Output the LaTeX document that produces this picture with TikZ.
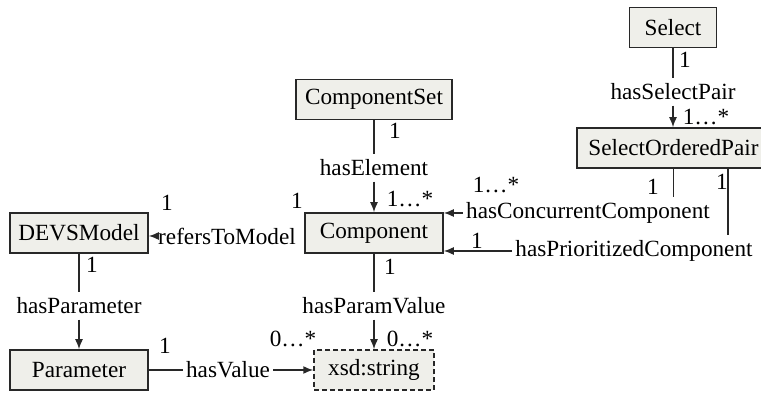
\documentclass[tikz,border=0pt]{standalone}
\usepackage{fontspec}
\setmainfont{Liberation Serif}
\usetikzlibrary{arrows.meta}
\definecolor{boxfill}{RGB}{239,239,234}
\definecolor{linegray}{RGB}{40,40,40}

\begin{document}
\begin{tikzpicture}
	[x=0.5pt, y=-0.5pt, font=\fontsize{11.6}{14}\selectfont,
	class/.style={draw=linegray, fill=boxfill, line width=0.75pt, minimum height=20pt, minimum width=69pt, inner sep=4pt},
	datatype/.style={class, dash pattern=on 2.5pt off 1.5pt},
	prop/.style={inner xsep=1.5pt, inner ysep=2.5pt},
	mult/.style={inner sep=0pt},
	link/.style={draw=linegray, line width=0.75pt},
	arrow/.style={link, -{Latex[length=5pt, width=4pt]}}]
	\useasboundingbox (0,0) rectangle (761,394);
	% classes
	\node[class, minimum width=43.5pt] (select) at (673,27.5) {Select};
	\node[class, minimum width=96.5pt] (sop) at (673.5,148) {SelectOrderedPair};
	\node[class, minimum width=78pt] (componentset) at (374,99.5) {ComponentSet};
	\node[class] (component) at (374,233) {Component};
	\node[class] (devsmodel) at (79,233) {DEVSModel};
	\node[class] (parameter) at (79,370) {Parameter};
	\node[datatype, minimum width=60pt] (xsd) at (374,370) {xsd:string};
	% properties
	\node[prop] (hsp) at (673,92) {hasSelectPair};
	\node[prop] (hel) at (374,168) {hasElement};
	\node[prop] (hcc) at (588,213) {hasConcurrentComponent};
	\node[prop] (hpc) at (634,251) {hasPrioritizedComponent};
	\node[prop] (rtm) at (227,236) {refersToModel};
	\node[prop] (hpa) at (79,306) {hasParameter};
	\node[prop] (hpv) at (374,306) {hasParamValue};
	\node[prop] (hv) at (228,370) {hasValue};
	\coordinate (prio) at (728,0);
	% connectors
	\draw[link] (select) -- (hsp);
	\draw[arrow] (hsp) -- (hsp |- sop.north);
	\draw[link] (componentset) -- (hel);
	\draw[arrow] (hel) -- (component);
	\draw[link] (sop) -- (sop |- hcc.north);
	\draw[arrow] (hcc) -- (component.east |- hcc);
	\draw[link] (sop.south -| prio) -- (prio |- hpc.north);
	\draw[arrow] (hpc) -- (component.east |- hpc);
	\draw[arrow] (rtm) -- (devsmodel.east |- rtm);
	\draw[link] (devsmodel) -- (hpa);
	\draw[arrow] (hpa) -- (parameter);
	\draw[link] (component) -- (hpv);
	\draw[arrow] (hpv) -- (xsd);
	\draw[link] (parameter) -- (hv);
	\draw[arrow] (hv) -- (xsd);
	% multiplicities
	\node[mult] (m1) at (685,60) {1};
	\node[mult] (m2) at (706,117) {1…*};
	\node[mult] (m3) at (653,187) {1};
	\node[mult] (m4) at (722,182) {1};
	\node[mult] (m5) at (496,185) {1…*};
	\node[mult] (m6) at (477,241) {1};
	\node[mult] (m7) at (395,131) {1};
	\node[mult] (m8) at (410,199) {1…*};
	\node[mult] (m9) at (297,201) {1};
	\node[mult] (m10) at (167,203) {1};
	\node[mult] (m11) at (92,265) {1};
	\node[mult] (m12) at (390,267) {1};
	\node[mult] (m13) at (165,346) {1};
	\node[mult] (m14) at (293,339) {0…*};
	\node[mult] (m15) at (410,339) {0…*};
\end{tikzpicture}
\end{document}
